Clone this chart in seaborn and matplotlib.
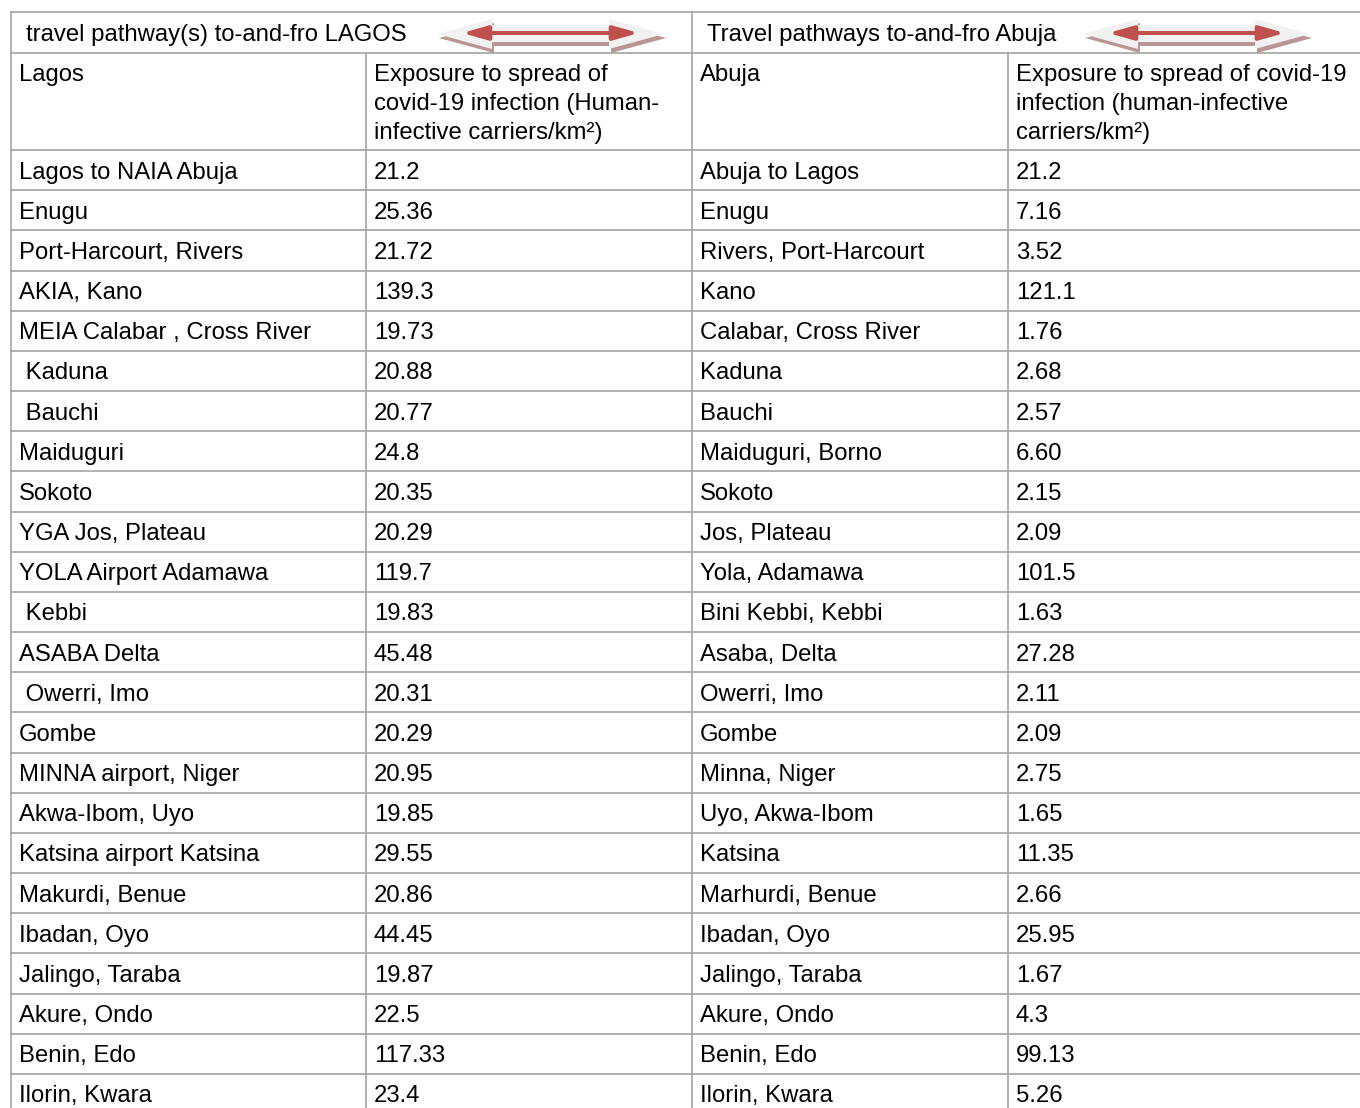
import matplotlib
matplotlib.use("Agg")
import matplotlib.pyplot as plt
import seaborn as sns
import pandas as pd
from matplotlib.patches import Polygon, FancyArrowPatch

# table content
lagos_title = "travel pathway(s) to-and-fro LAGOS"
abuja_title = "Travel pathways to-and-fro Abuja"
lagos_head = ["Lagos", ["Exposure to spread of", "covid-19 infection (Human-", "infective carriers/km²)"]]
abuja_head = ["Abuja", ["Exposure to spread of covid-19", "infection (human-infective", "carriers/km²)"]]

lagos_routes = ["Lagos to NAIA Abuja", "Enugu", "Port-Harcourt, Rivers", "AKIA, Kano",
                "MEIA Calabar , Cross River", " Kaduna", " Bauchi", "Maiduguri", "Sokoto",
                "YGA Jos, Plateau", "YOLA Airport Adamawa", " Kebbi", "ASABA Delta",
                " Owerri, Imo", "Gombe", "MINNA airport, Niger", "Akwa-Ibom, Uyo",
                "Katsina airport Katsina", "Makurdi, Benue", "Ibadan, Oyo", "Jalingo, Taraba",
                "Akure, Ondo", "Benin, Edo", "Ilorin, Kwara"]
lagos_exposure = ["21.2", "25.36", "21.72", "139.3", "19.73", "20.88", "20.77", "24.8",
                  "20.35", "20.29", "119.7", "19.83", "45.48", "20.31", "20.29", "20.95",
                  "19.85", "29.55", "20.86", "44.45", "19.87", "22.5", "117.33", "23.4"]
abuja_routes = ["Abuja to Lagos", "Enugu", "Rivers, Port-Harcourt", "Kano",
                "Calabar, Cross River", "Kaduna", "Bauchi", "Maiduguri, Borno", "Sokoto",
                "Jos, Plateau", "Yola, Adamawa", "Bini Kebbi, Kebbi", "Asaba, Delta",
                "Owerri, Imo", "Gombe", "Minna, Niger", "Uyo, Akwa-Ibom", "Katsina",
                "Marhurdi, Benue", "Ibadan, Oyo", "Jalingo, Taraba", "Akure, Ondo",
                "Benin, Edo", "Ilorin, Kwara"]
abuja_exposure = ["21.2", "7.16", "3.52", "121.1", "1.76", "2.68", "2.57", "6.60", "2.15",
                  "2.09", "101.5", "1.63", "27.28", "2.11", "2.09", "2.75", "1.65", "11.35",
                  "2.66", "25.95", "1.67", "4.3", "99.13", "5.26"]

df = pd.DataFrame({"lagos": lagos_routes, "lagos_exp": lagos_exposure,
                   "abuja": abuja_routes, "abuja_exp": abuja_exposure})

sns.set_theme(style="white")
plt.rcParams['font.family'] = ['Liberation Sans', 'DejaVu Sans']
plt.rcParams['text.color'] = 'black'

W, H = 1360, 1108
fig = plt.figure(figsize=(13.6, 11.08), dpi=100)
ax = fig.add_axes([0, 0, 1, 1])
ax.set_xlim(0, W)
ax.set_ylim(H, 0)
ax.axis('off')

fs = 17.2
lc = '#a3a3a3'
top, head_bot, sub_bot, row_h = 12, 53, 150, 40.17
col_x = [11, 366, 692, 1008]

# grid lines
ax.plot([11, W], [top, top], color=lc, lw=1.2)
ax.plot([11, W], [head_bot, head_bot], color=lc, lw=1.2)
for i in range(len(df) + 1):
    y = sub_bot + i * row_h
    ax.plot([11, W], [y, y], color=lc, lw=1.2)
ax.plot([col_x[0], col_x[0]], [top, H], color=lc, lw=1.2)
ax.plot([col_x[2], col_x[2]], [top, H], color=lc, lw=1.2)
ax.plot([col_x[1], col_x[1]], [head_bot, H], color=lc, lw=1.2)
ax.plot([col_x[3], col_x[3]], [head_bot, H], color=lc, lw=1.2)

# title row
ax.text(26, 34.5, lagos_title, fontsize=fs, va='center', ha='left')
ax.text(707, 34.5, abuja_title, fontsize=fs, va='center', ha='left')


def double_arrow(x0, x1, yc):
    # light outline arrow with a soft shadow and a red arrow inside
    hl = 55
    pts = [(x0, yc), (x0 + hl, yc - 15), (x0 + hl, yc - 9), (x1 - hl, yc - 9),
           (x1 - hl, yc - 15), (x1, yc), (x1 - hl, yc + 15), (x1 - hl, yc + 8),
           (x0 + hl, yc + 8), (x0 + hl, yc + 15)]
    shadow = [(x + 2, y + 4) for x, y in pts]
    ax.add_patch(Polygon(shadow, closed=True, fc='#b99595', ec='none'))
    ax.add_patch(Polygon(pts, closed=True, fc='#f1f1f1', ec='none'))
    ax.add_patch(FancyArrowPatch((x0 + 25, yc - 1), (x1 - 25, yc - 1),
                                 arrowstyle='<|-|>,head_length=1.5,head_width=0.42',
                                 mutation_scale=10, color='#c0504d', lw=2.9,
                                 shrinkA=0, shrinkB=0))


double_arrow(437, 664, 34)
double_arrow(1083, 1310, 34)

# sub-header row
ax.text(19, 75, lagos_head[0], fontsize=fs, va='center')
ax.text(700, 75, abuja_head[0], fontsize=fs, va='center')
for j, line in enumerate(lagos_head[1]):
    ax.text(374, 75 + 29 * j, line, fontsize=fs, va='center')
for j, line in enumerate(abuja_head[1]):
    ax.text(1016, 75 + 29 * j, line, fontsize=fs, va='center')

# data rows
for i, row in df.iterrows():
    y = sub_bot + (i + 0.5) * row_h + 2.5
    ax.text(19, y, row['lagos'], fontsize=fs, va='center')
    ax.text(374, y, row['lagos_exp'], fontsize=fs, va='center')
    ax.text(700, y, row['abuja'], fontsize=fs, va='center')
    ax.text(1016, y, row['abuja_exp'], fontsize=fs, va='center')

fig.savefig('out.png', dpi=100)
